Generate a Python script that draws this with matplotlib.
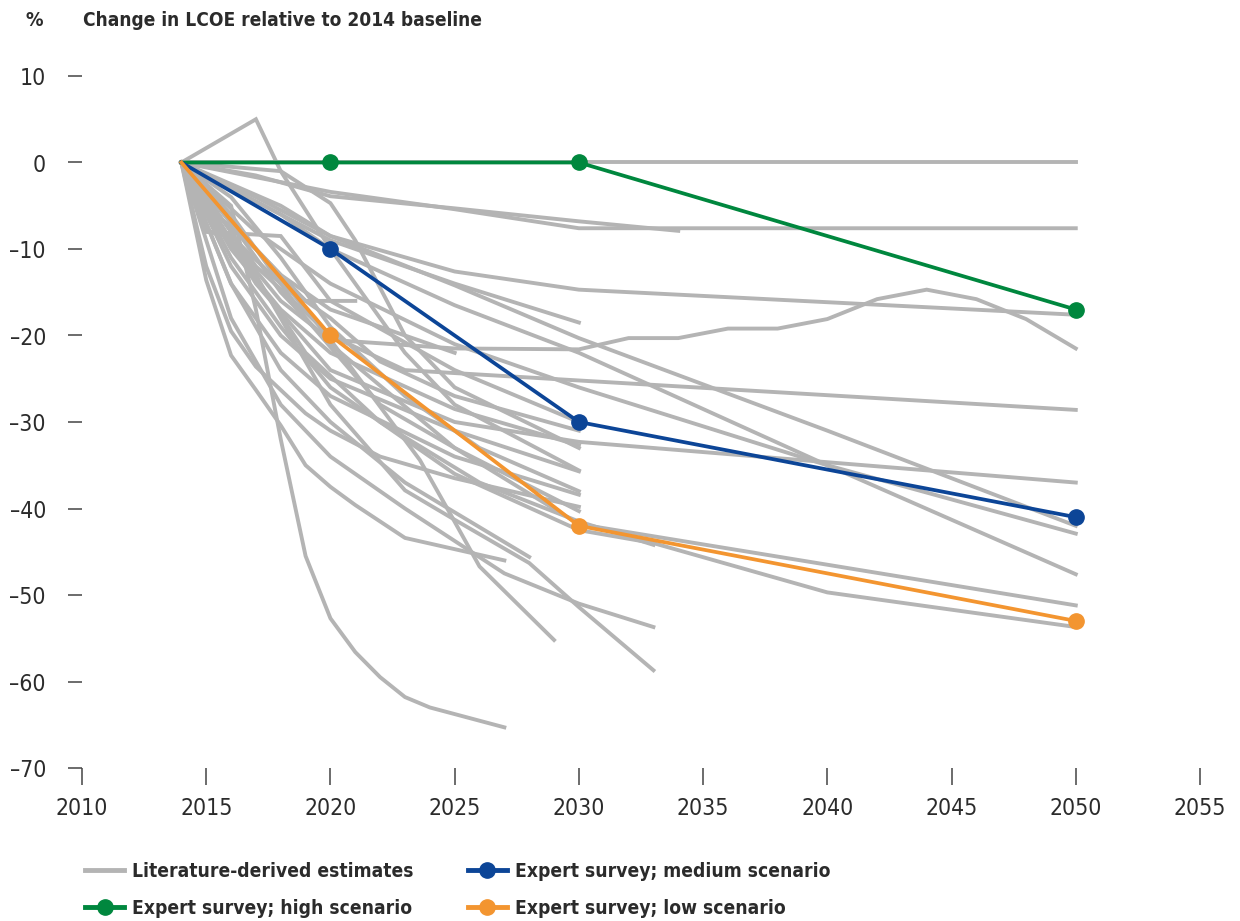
import matplotlib
matplotlib.use("Agg")
import matplotlib.pyplot as plt
from matplotlib.lines import Line2D
from matplotlib.ticker import FixedLocator, FuncFormatter

plt.rcParams['font.family'] = ['DejaVu Sans']
plt.rcParams['font.stretch'] = 'condensed'

# Literature-derived LCOE trajectories (% change vs 2014)
lit_years = [
    [2014, 2020, 2030, 2050],
    [2014, 2020, 2025, 2030, 2050],
    [2014, 2017, 2020, 2025, 2030, 2034],
    [2014, 2017, 2020, 2025, 2030, 2050],
    [2014, 2018, 2020, 2025, 2030],
    [2014, 2016, 2018, 2020, 2025, 2030, 2032, 2034, 2036, 2038, 2040, 2042, 2044, 2046, 2048, 2050],
    [2014, 2016, 2018, 2020, 2025],
    [2014, 2015, 2017, 2019, 2021],
    [2014, 2017, 2020, 2023, 2030, 2050],
    [2014, 2017, 2020, 2025, 2030, 2050],
    [2014, 2018, 2020, 2025, 2030, 2040, 2050],
    [2014, 2018, 2020, 2025, 2030, 2040, 2050],
    [2014, 2017, 2020, 2025, 2030, 2040, 2050],
    [2014, 2016, 2018, 2020, 2025, 2030],
    [2014, 2016, 2018, 2020, 2025, 2030],
    [2014, 2016, 2018, 2020, 2025, 2030],
    [2014, 2015, 2016, 2017, 2018, 2019, 2020, 2022, 2025, 2030],
    [2014, 2016, 2019, 2022, 2025, 2030],
    [2014, 2016, 2019, 2022, 2026, 2030, 2033],
    [2014, 2016, 2018, 2020, 2025, 2030, 2040, 2050],
    [2014, 2016, 2018, 2020, 2025, 2030, 2033, 2040, 2050],
    [2014, 2016, 2018, 2020, 2023, 2027, 2030, 2033],
    [2014, 2015, 2016, 2017, 2018, 2019, 2020, 2021, 2022, 2023, 2027],
    [2014, 2017, 2020, 2023.6, 2024.8, 2026, 2029],
    [2014, 2016, 2018, 2020, 2023, 2025, 2028, 2030, 2033],
    [2014, 2016, 2018, 2020, 2023, 2028],
    [2014, 2016, 2017, 2018, 2019, 2020, 2021, 2022, 2023, 2024, 2027],
    [2014, 2017, 2018, 2020, 2021, 2023, 2025, 2030],
    [2014, 2015, 2018, 2020, 2025, 2030],
    [2014, 2018, 2020, 2023, 2025, 2030],
    [2014, 2015, 2016, 2018, 2020, 2022, 2025, 2030],
    [2014, 2016, 2018, 2020, 2023, 2026, 2030],
]
lit_values = [
    [0, 0, 0, 0],
    [0, -3.4, -5.4, -7.6, -7.6],
    [0, -1.5, -3.9, -5.3, -6.8, -7.9],
    [0, -4, -8.5, -12.6, -14.7, -17.6],
    [0, -6, -9, -14, -18.5],
    [0, -9, -16, -20.5, -21.5, -21.6, -20.3, -20.3, -19.2, -19.2, -18.1, -15.8, -14.7, -15.8, -18.1, -21.5],
    [0, -7, -13, -17, -22],
    [0, -5, -10, -16, -16],
    [0, -12, -20, -24, -25.2, -28.6],
    [0, -14, -24, -30, -32.3, -37],
    [0, -5, -8.5, -14.2, -20.3, -31, -42],
    [0, -6, -10, -16.5, -22, -35, -47.6],
    [0, -8, -14, -21, -26, -35, -42.9],
    [0, -10, -17, -22, -28.5, -32.7],
    [0, -12, -20, -25, -31, -35.7],
    [0, -14, -22, -27, -34, -38.4],
    [0, -12, -19.5, -23.6, -26.3, -29, -31, -34, -36.5, -39.8],
    [0, -6, -18, -28, -33, -40.3],
    [0, -9, -22, -30, -37, -41.5, -44.2],
    [0, -7, -15, -21, -33, -41.8, -46.5, -51.2],
    [0, -11, -19, -26, -36, -42.5, -44, -49.7, -53.7],
    [0, -18, -28, -34, -40, -47.5, -51, -53.7],
    [0, -13.6, -22.3, -26.3, -30.4, -35, -37.5, -39.6, -41.5, -43.4, -46],
    [0, -10, -20.5, -34.4, -40.5, -46.7, -55.2],
    [0, -8, -18, -28, -37.9, -41.3, -46.3, -51.4, -58.7],
    [0, -14, -24, -30, -37, -45.6],
    [0, -5, -17, -32, -45.5, -52.7, -56.6, -59.5, -61.8, -63, -65.3],
    [0, 5, -1, -4.7, -9, -20, -26, -33],
    [0, -8, -8.5, -16, -24, -30],
    [0, -1, -10, -22, -28, -35.6],
    [0, -8, -8.5, -14, -18, -23, -27, -31],
    [0, -4, -11, -19, -27, -33, -38],
]

# Expert survey scenarios
survey_years = [2014, 2020, 2030, 2050]
high_values = [0, 0, 0, -17]
medium_values = [0, -10, -30, -41]
low_values = [0, -20, -42, -53]

x_ticks = [2010, 2015, 2020, 2025, 2030, 2035, 2040, 2045, 2050, 2055]
y_ticks = [10, 0, -10, -20, -30, -40, -50, -60, -70]

GRAY = '#b4b4b4'
GREEN = '#00873e'
BLUE = '#0c4597'
ORANGE = '#f39530'
TEXT = '#2b2b2b'

fig = plt.figure(figsize=(12.4, 9.21), dpi=100)
ax = fig.add_axes([82 / 1240, 1 - 768 / 921, (1200 - 82) / 1240, (768 - 76) / 921])

for yrs, vals in zip(lit_years, lit_values):
    ax.plot(yrs, vals, color=GRAY, lw=2.8, solid_joinstyle='miter', zorder=1)

for vals, col in [(high_values, GREEN), (medium_values, BLUE), (low_values, ORANGE)]:
    ax.plot(survey_years, vals, color=col, lw=2.7, marker='o', markersize=11,
            markevery=[1, 2, 3], zorder=3)

ax.set_xlim(2010, 2055)
ax.set_ylim(-70, 10)
for s in ax.spines.values():
    s.set_visible(False)

ax.xaxis.set_major_locator(FixedLocator(x_ticks))
ax.yaxis.set_major_locator(FixedLocator(y_ticks))
ax.yaxis.set_major_formatter(FuncFormatter(lambda v, p: f"{int(v)}".replace('-', '\u2013')))
ax.tick_params(axis='x', direction='out', length=12, width=1.1, color='#444444',
               pad=9, labelsize=16.5, labelcolor=TEXT)
ax.tick_params(axis='y', direction='out', length=10, width=1.1, color='#444444',
               pad=16, labelsize=16.5, labelcolor=TEXT)

fig.text(25 / 1240, 1 - 20 / 921, '%', fontsize=14, fontweight='bold', color=TEXT, va='center')
fig.text(83 / 1240, 1 - 20 / 921, 'Change in LCOE relative to 2014 baseline', fontsize=13.7,
         fontweight='bold', color=TEXT, va='center')

handles = [
    Line2D([], [], color=GRAY, lw=3.5),
    Line2D([], [], color=GREEN, lw=3.5, marker='o', markersize=11),
    Line2D([], [], color=BLUE, lw=3.5, marker='o', markersize=11),
    Line2D([], [], color=ORANGE, lw=3.5, marker='o', markersize=11),
]
labels = ['Literature-derived estimates', 'Expert survey; high scenario',
          'Expert survey; medium scenario', 'Expert survey; low scenario']
leg = fig.legend(handles, labels, ncol=2, loc='upper left',
                 bbox_to_anchor=(85 / 1240, 1 - 862 / 921), frameon=False,
                 borderaxespad=0, borderpad=0,
                 prop={'size': 13.8, 'weight': 'bold', 'stretch': 'condensed'},
                 handlelength=2.05, handletextpad=0.42, columnspacing=2.8, labelspacing=0.95)
for t in leg.get_texts():
    t.set_color(TEXT)

fig.savefig('out.png', dpi=100, facecolor='white')
